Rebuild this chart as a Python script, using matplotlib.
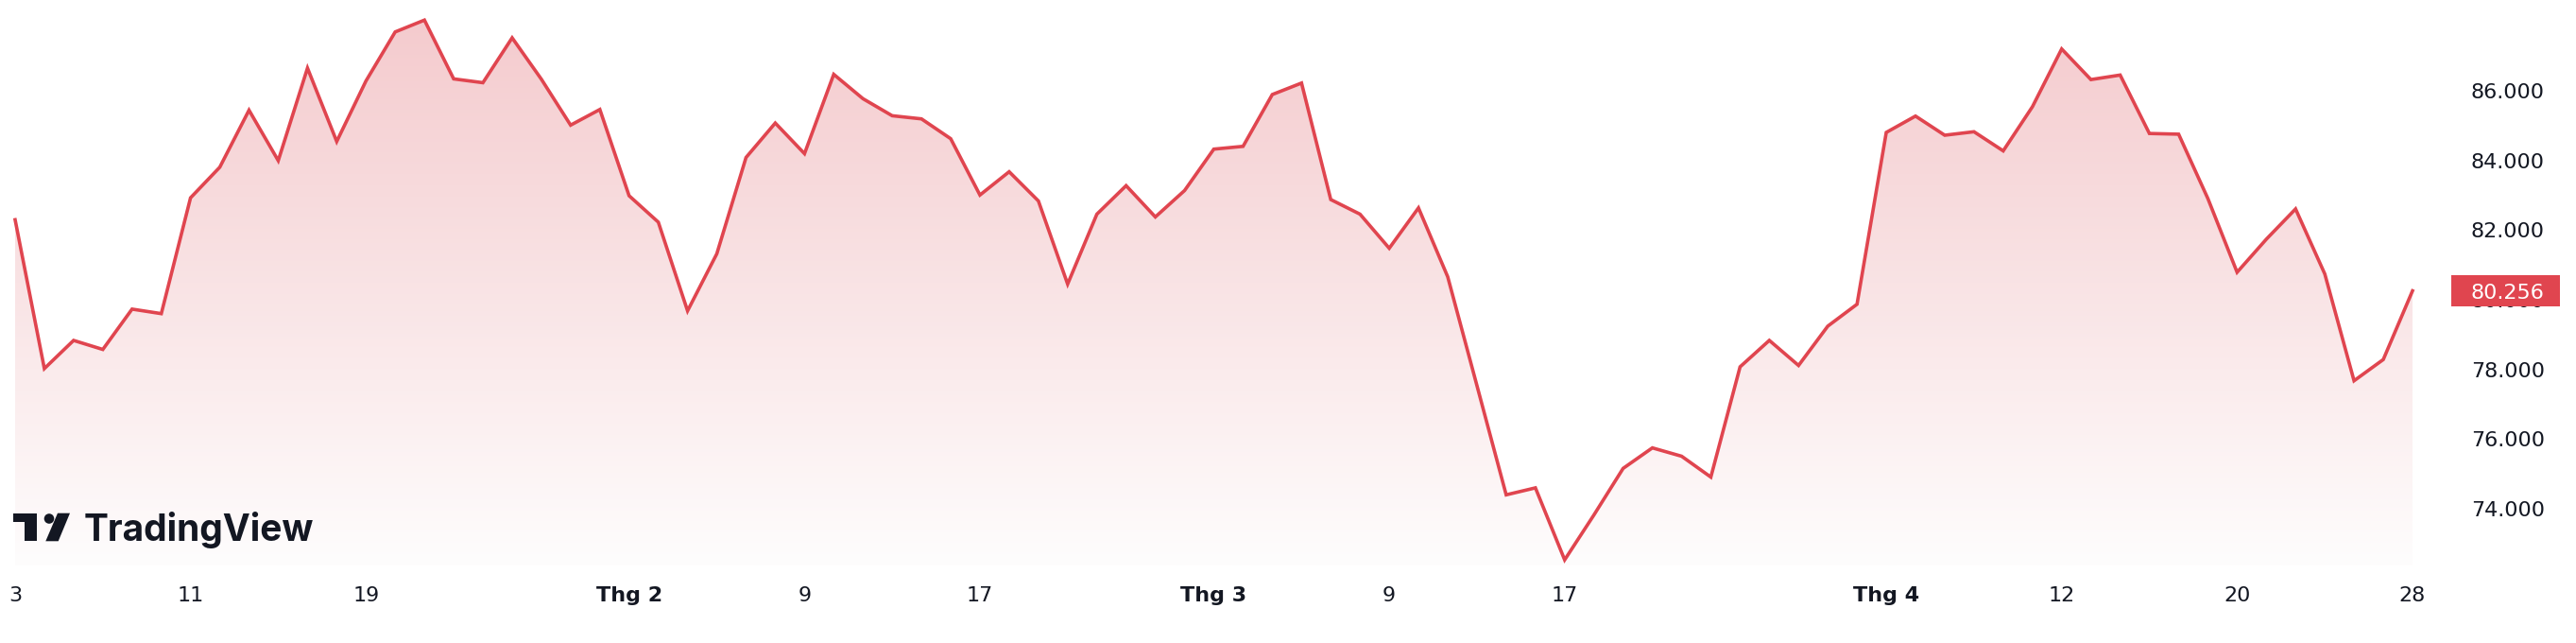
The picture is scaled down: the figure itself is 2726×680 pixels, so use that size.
import numpy as np
import matplotlib
matplotlib.use("Agg")
import matplotlib.pyplot as plt
import matplotlib.transforms as mtrans
from matplotlib.colors import LinearSegmentedColormap
from matplotlib.patches import Rectangle, Polygon, Ellipse

# daily closes, 3 Jan -> 28 Apr (trading days only)
price = [82.30, 78.02, 78.83, 78.57, 79.73, 79.60, 82.93, 83.81, 85.45, 84.00,
         86.66, 84.55, 86.29, 87.70, 88.04, 86.35, 86.24, 87.53, 86.34, 85.02,
         85.47, 82.99, 82.23, 79.68, 81.32, 84.09, 85.08, 84.20, 86.48, 85.78,
         85.29, 85.20, 84.63, 83.01, 83.68, 82.84, 80.45, 82.46, 83.28, 82.38,
         83.14, 84.33, 84.41, 85.90, 86.23, 82.88, 82.46, 81.48, 82.64, 80.66,
         77.53, 74.39, 74.59, 72.52, 73.81, 75.15, 75.74, 75.50, 74.90, 78.07,
         78.83, 78.11, 79.24, 79.87, 84.81, 85.28, 84.73, 84.83, 84.28, 85.55,
         87.21, 86.33, 86.46, 84.78, 84.76, 82.91, 80.79, 81.74, 82.61, 80.74,
         77.67, 78.28, 80.256]
tick_idx = [0, 6, 12, 21, 27, 33, 41, 47, 53, 64, 70, 76, 82]
tick_lbl = ["3", "11", "19", "Thg 2", "9", "17", "Thg 3", "9", "17", "Thg 4", "12", "20", "28"]
y_ticks = [74, 76, 78, 80, 82, 84, 86]

W, H = 2726, 680
RED = "#e0454f"
DARK = "#131722"

def fx(px):
    return px / W

def fy(py):
    return 1 - py / H

fig = plt.figure(figsize=(W / 100, H / 100), dpi=100)
bottom_px = 598
right_px = 2580
ax = fig.add_axes([0, fy(bottom_px), fx(right_px), bottom_px / H])

step = (2553 - 16) / 82.0
x = np.arange(len(price))
ax.set_xlim(-16 / step, (right_px - 16) / step)
ymin, ymax = 72.359, 88.618
ax.set_ylim(ymin, ymax)

# gradient area under the line
cmap = LinearSegmentedColormap.from_list("fade", ["#fefdfd", "#f4c9cc"])
grad = np.linspace(1, 0, 256).reshape(-1, 1)
im = ax.imshow(grad, cmap=cmap, extent=[x[0], x[-1], ymin, ymax],
               aspect="auto", origin="upper", zorder=1)
poly = ax.fill_between(x, price, ymin, facecolor="none", edgecolor="none")
im.set_clip_path(poly.get_paths()[0], transform=ax.transData)

ax.plot(x, price, color=RED, lw=2.6, zorder=3, clip_on=False,
        solid_joinstyle="miter")

for s in ax.spines.values():
    s.set_visible(False)

ax.set_xticks(tick_idx)
ax.set_xticklabels(tick_lbl)
for t in ax.get_xticklabels():
    t.set_fontsize(16)
    t.set_color(DARK)
    if t.get_text().startswith("Thg"):
        t.set_fontweight("bold")
ax.tick_params(axis="x", length=0, pad=16)

ax.yaxis.tick_right()
ax.set_yticks(y_ticks)
ax.set_yticklabels([f"{v:.3f}" for v in y_ticks])
ax.tick_params(axis="y", length=0, pad=25.2, labelsize=16, labelcolor=DARK)

# last price badge
last = price[-1]
bt = mtrans.blended_transform_factory(fig.transFigure, ax.transData)
box = Rectangle((fx(2594), last - 0.45), fx(2709) - fx(2594), 0.9,
                transform=bt, facecolor=RED, edgecolor="none", zorder=5)
fig.add_artist(box)
fig.text(fx(2615), last, f"{last:.3f}", transform=bt, color="white",
         fontsize=16, va="center_baseline", ha="left", zorder=6)

# TradingView logo
t_shape = [(14, 542.7), (39.3, 542.7), (39.3, 572.3), (26, 572.3), (26, 551.7), (14, 551.7)]
fig.add_artist(Polygon([(fx(a), fy(b)) for a, b in t_shape], closed=True,
                       transform=fig.transFigure, facecolor=DARK, edgecolor="none"))
fig.add_artist(Ellipse((fx(52), fy(548.5)), 10.6 / W, 10.6 / H,
                       transform=fig.transFigure, facecolor=DARK, edgecolor="none"))
slash = [(61, 542.7), (74, 542.7), (61.7, 572.3), (48.3, 572.3)]
fig.add_artist(Polygon([(fx(a), fy(b)) for a, b in slash], closed=True,
                       transform=fig.transFigure, facecolor=DARK, edgecolor="none"))
fig.text(fx(88.3), fy(572.3), "TradingView", fontsize=28, fontweight="bold",
         family="Inter", color=DARK, va="baseline", ha="left")

fig.savefig("out.png", dpi=100, facecolor="white")
